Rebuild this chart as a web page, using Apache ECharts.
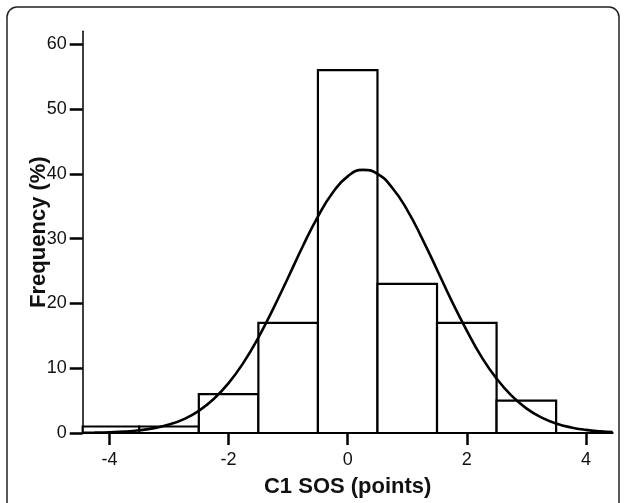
<!DOCTYPE html>
<html>
<head>
<meta charset="utf-8">
<script src="https://cdn.jsdelivr.net/npm/echarts@6/dist/echarts.min.js"></script>
<style>
html,body{margin:0;padding:0;background:#fff;}
#chart{width:624px;height:503px;}
</style>
</head>
<body>
<div id="chart"></div>
<script>
// Histogram bins: [start, end, frequency %]
const binStarts = [-4.5, -3.5, -2.5, -1.5, -0.5, 0.5, 1.5, 2.5];
const binEnds   = [-3.5, -2.5, -1.5, -0.5, 0.5, 1.5, 2.5, 3.5];
const binFreq   = [1, 1, 6, 17, 56, 23, 17, 5];

// Normal curve points
const curveX = [-4.45, -4.25, -4, -3.75, -3.5, -3.25, -3, -2.75, -2.5, -2.25, -2, -1.75, -1.5, -1.25, -1, -0.75, -0.5, -0.25, 0, 0.25, 0.5, 0.75, 1, 1.25, 1.5, 1.75, 2, 2.25, 2.5, 2.75, 3, 3.25, 3.5, 3.75, 4, 4.25, 4.45];
const curveY = [0.03, 0.06, 0.12, 0.22, 0.42, 0.75, 1.3, 2.15, 3.42, 5.24, 7.69, 10.86, 14.73, 19.2, 24.0, 28.9, 33.4, 37.1, 39.6, 40.6, 40.0, 37.8, 34.4, 30.0, 25.2, 20.3, 15.8, 11.7, 8.39, 5.77, 3.8, 2.41, 1.47, 0.86, 0.48, 0.26, 0.16];

const xTicks = [-4, -2, 0, 2, 4];
const yTicks = [0, 10, 20, 30, 40, 50, 60];

const xTitle = 'C1 SOS (points)';
const yTitle = 'Frequency (%)';

const binData = binStarts.map((s, i) => [s, binEnds[i], binFreq[i]]);
const curveData = curveX.map((x, i) => [x, curveY[i]]);

const FONT = '"Liberation Sans", Arial, Helvetica, sans-serif';
const chart = echarts.init(document.getElementById('chart'));

chart.setOption({
  animation: false,
  backgroundColor: '#fff',
  graphic: [{
    type: 'rect',
    shape: { x: 7, y: 7, width: 612, height: 510, r: 10 },
    style: { fill: 'none', stroke: '#222', lineWidth: 1.5 },
    silent: true, z: -1
  }],
  grid: { left: 82.7, right: 11.3, top: 31.2, bottom: 70 },
  xAxis: {
    type: 'value',
    min: -4.45, max: 4.45,
    name: xTitle,
    nameLocation: 'middle',
    nameGap: 43,
    nameMoveOverlap: false,
    nameTextStyle: { fontFamily: FONT, fontSize: 22, fontWeight: 'bold', color: '#111' },
    axisLine: { show: true, onZero: false, lineStyle: { color: '#000', width: 2 } },
    axisTick: { show: true, inside: false, length: 12, customValues: xTicks, lineStyle: { color: '#000', width: 2.5 } },
    axisLabel: { customValues: xTicks, margin: 18, fontFamily: FONT, fontSize: 18, color: '#111' },
    splitLine: { show: false }
  },
  yAxis: {
    type: 'value',
    min: 0, max: 62,
    name: yTitle,
    nameLocation: 'middle',
    nameGap: 33,
    nameRotate: 90,
    nameMoveOverlap: false,
    nameTextStyle: { fontFamily: FONT, fontSize: 22, fontWeight: 'bold', color: '#111' },
    axisLine: { show: true, onZero: false, lineStyle: { color: '#000', width: 1.5 } },
    axisTick: { show: true, length: 13, customValues: yTicks, lineStyle: { color: '#000', width: 2.5 } },
    axisLabel: { customValues: yTicks, margin: 16, fontFamily: FONT, fontSize: 18, color: '#111' },
    splitLine: { show: false }
  },
  series: [
    {
      type: 'custom',
      data: binData,
      encode: { x: [0, 1], y: 2 },
      renderItem: function (params, api) {
        const x0 = api.value(0), x1 = api.value(1), h = api.value(2);
        const pTop = api.coord([x0, h]);
        const pBot = api.coord([x1, 0]);
        const cs = params.coordSys;
        const left = Math.max(pTop[0], cs.x);
        const right = Math.min(pBot[0], cs.x + cs.width);
        return {
          type: 'rect',
          shape: { x: left, y: pTop[1], width: right - left, height: pBot[1] - pTop[1] },
          style: { fill: '#fff', stroke: '#000', lineWidth: 2.2 }
        };
      },
      z: 2
    },
    {
      type: 'line',
      data: curveData,
      smooth: true,
      showSymbol: false,
      symbol: 'none',
      lineStyle: { color: '#000', width: 2.6 },
      z: 3
    }
  ]
});
</script>
</body>
</html>
